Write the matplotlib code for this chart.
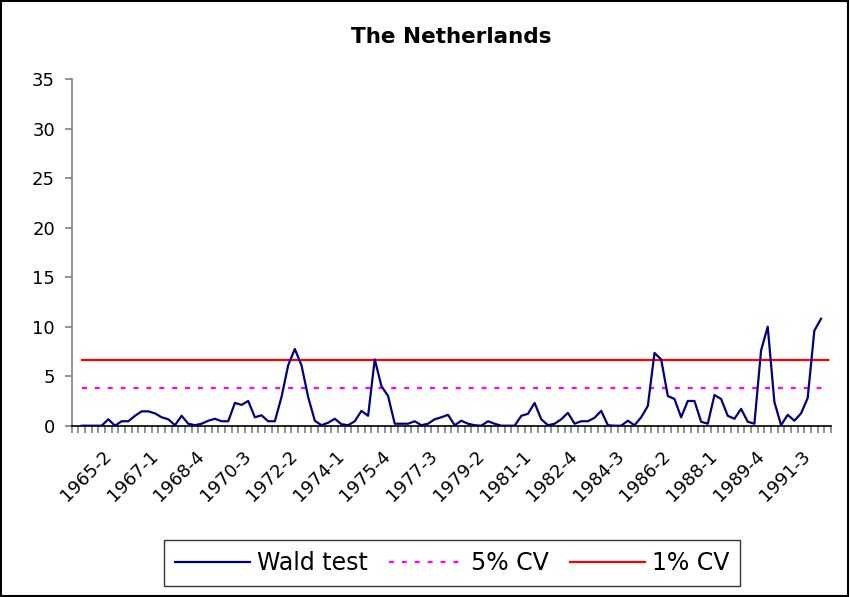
import numpy as np
import matplotlib
matplotlib.use('Agg')
import matplotlib.pyplot as plt
from matplotlib.patches import Rectangle

# Category axis: quarters 1964-1 .. 1992-2
quarters = ['%d-%d' % (y, q) for y in range(1964, 1993) for q in range(1, 5)][:114]
tick_labels = ['1965-2', '1967-1', '1968-4', '1970-3', '1972-2', '1974-1',
               '1975-4', '1977-3', '1979-2', '1981-1', '1982-4', '1984-3',
               '1986-2', '1988-1', '1989-4', '1991-3']

# Wald test statistic, 1964-2 .. 1992-1
wald_start = '1964-2'
wald = [0.0, 0.0, 0.0, 0.0, 0.65, 0.0, 0.45, 0.45, 1.0, 1.45,
        1.45, 1.25, 0.85, 0.65, 0.05, 1.0, 0.2, 0.05, 0.2, 0.5,
        0.7, 0.45, 0.45, 2.3, 2.1, 2.5, 0.85, 1.05, 0.45, 0.45,
        2.9, 6.1, 7.75, 6.1, 2.9, 0.5, 0.05, 0.3, 0.7, 0.15,
        0.05, 0.45, 1.5, 1.0, 6.7, 4.0, 3.0, 0.2, 0.2, 0.2,
        0.45, 0.05, 0.2, 0.65, 0.85, 1.1, 0.05, 0.5, 0.2, 0.05,
        0.0, 0.45, 0.2, 0.0, 0.0, 0.0, 1.0, 1.2, 2.3, 0.65,
        0.05, 0.2, 0.65, 1.3, 0.2, 0.45, 0.45, 0.8, 1.5, 0.05,
        0.0, 0.0, 0.5, 0.05, 0.85, 2.0, 7.35, 6.7, 3.0, 2.7,
        0.85, 2.5, 2.5, 0.4, 0.2, 3.1, 2.7, 1.0, 0.7, 1.7,
        0.4, 0.2, 7.6, 10.0, 2.4, 0.05, 1.1, 0.5, 1.25, 2.8,
        9.6, 10.8]

# critical values, 1964-2 .. 1992-2
cv_start = '1964-2'
cv_count = 113
cv5 = 3.84
cv1 = 6.63

plt.rcParams['font.family'] = ['DejaVu Sans']

fig = plt.figure(figsize=(8.5, 5.97), dpi=100)
ax = fig.add_axes([71.7 / 850, 1 - 425.7 / 597, (831 - 71.7) / 850, (425.7 - 79.3) / 597])

i0 = quarters.index(wald_start)
ax.plot(np.arange(i0, i0 + len(wald)), wald, color='#000080', lw=1.6,
        label='Wald test', zorder=3)
c0 = quarters.index(cv_start)
xc = np.arange(c0, c0 + cv_count)
ax.plot(xc, np.full(cv_count, cv5), color='#FF00FF', lw=1.6,
        dashes=(2.2, 3.6), label='5% CV', zorder=2)
ax.plot(xc, np.full(cv_count, cv1), color='#FF0000', lw=1.6,
        label='1% CV', zorder=2)

ax.set_xlim(-0.5, len(quarters) - 0.5)
ax.set_ylim(0, 35)
ax.set_yticks(np.arange(0, 36, 5))

ax.spines['top'].set_visible(False)
ax.spines['right'].set_visible(False)
ax.spines['left'].set_color('#808080')
ax.spines['left'].set_linewidth(1.2)
ax.spines['bottom'].set_color('black')
ax.spines['bottom'].set_linewidth(1.2)

# category boundaries get tick marks, labels sit on category centres
ax.set_xticks(np.arange(-0.5, len(quarters)), minor=True)
ax.set_xticks([quarters.index(t) for t in tick_labels])
ax.set_xticklabels(tick_labels, rotation=45, ha='right', va='center',
                   rotation_mode='anchor', fontsize=13)
ax.tick_params(axis='x', which='major', length=0, pad=20)
ax.tick_params(axis='x', which='minor', length=5, width=1.2,
               color='#808080', direction='out')
ax.tick_params(axis='y', length=5, width=1.2, color='#808080', pad=7,
               labelsize=13)

ax.set_title('The Netherlands', fontsize=15.5, fontweight='bold', pad=26)

leg = fig.legend(loc='center', bbox_to_anchor=(452 / 850, 1 - 563 / 597),
                 ncol=3, fontsize=17, frameon=True, fancybox=False,
                 handlelength=3.2, handletextpad=0.27, columnspacing=0.9,
                 borderpad=0.45)
leg.get_frame().set_edgecolor('black')
leg.get_frame().set_linewidth(1.0)

fig.patches.append(Rectangle((0.001, 0.001), 0.997, 0.997, transform=fig.transFigure,
                             fill=False, edgecolor='black', lw=1.5))

fig.savefig('out.png', dpi=100)
